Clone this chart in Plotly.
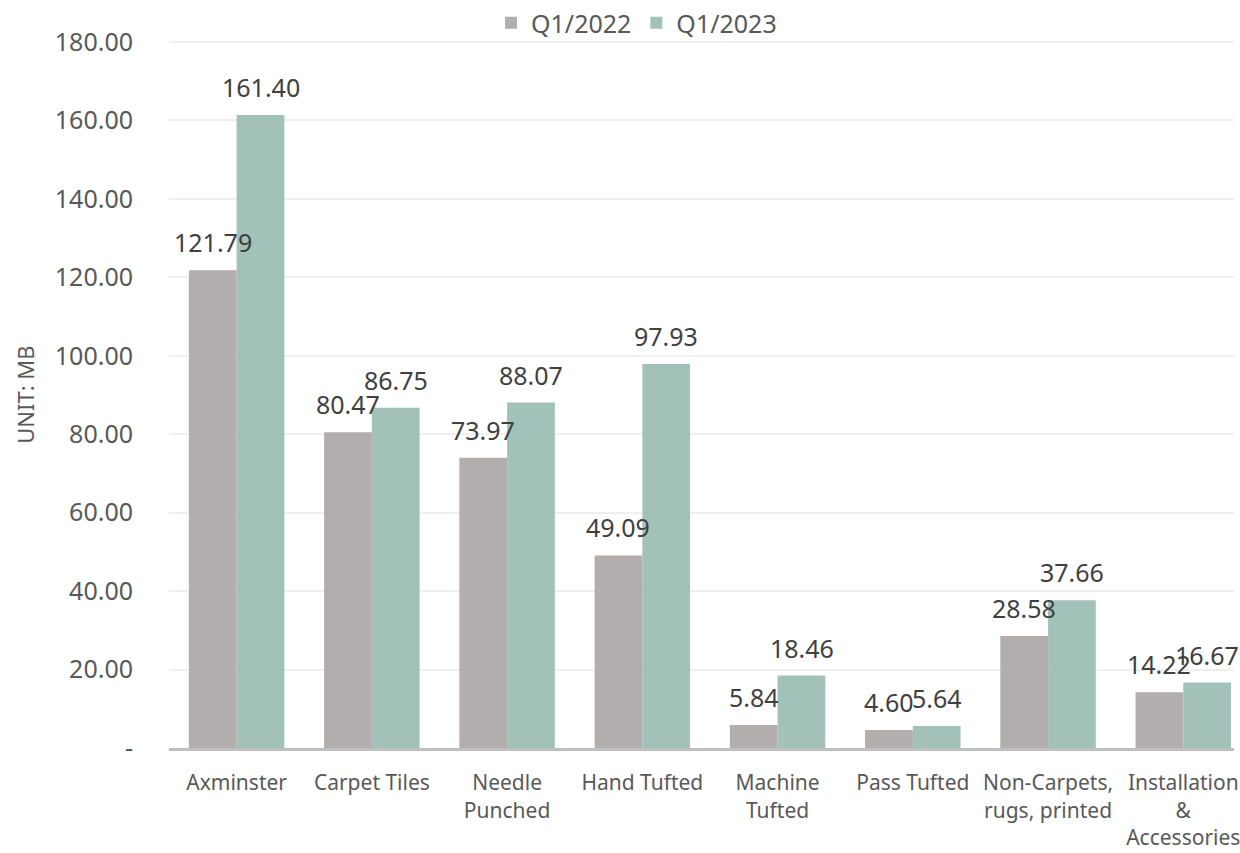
import plotly.graph_objects as go

categories = ["Axminster", "Carpet Tiles", "Needle<br>Punched", "Hand Tufted",
              "Machine<br>Tufted", "Pass Tufted", "Non-Carpets,<br>rugs, printed",
              "Installation<br>&<br>Accessories"]
q1_2022 = [121.79, 80.47, 73.97, 49.09, 5.84, 4.60, 28.58, 14.22]
q1_2023 = [161.40, 86.75, 88.07, 97.93, 18.46, 5.64, 37.66, 16.67]
series_names = ["Q1/2022", "Q1/2023"]
ytick_vals = [0, 20, 40, 60, 80, 100, 120, 140, 160, 180]
ytick_text = ["-"] + [f"{v:.2f}" for v in ytick_vals[1:]]
y_title = "UNIT: MB"

FONT = "Noto Sans"
fig = go.Figure()
annotations = []
for name, vals, col, shift in [(series_names[0], q1_2022, "#b3adad", -24),
                               (series_names[1], q1_2023, "#a1c1b9", 24)]:
    fig.add_trace(go.Bar(
        x=categories, y=vals, name=name, marker=dict(color=col, line=dict(width=0)),
    ))
    for c, v in zip(categories, vals):
        annotations.append(dict(
            x=c, y=v, xref="x", yref="y", text=f"{v:.2f}", showarrow=False,
            xanchor="center", yanchor="bottom", xshift=shift, yshift=9,
            font=dict(family=FONT, size=25, color="#404040"),
        ))

# axis title (placed next to the y axis, centred on the 0-180 span)
annotations.append(dict(
    x=-0.1354, y=0.472, xref="paper", yref="paper", text=y_title, showarrow=False,
    textangle=-90, xanchor="center", yanchor="middle",
    font=dict(family=FONT, size=22, color="#595959"),
))

fig.update_layout(
    width=1240, height=853,
    margin=dict(l=169, r=0, t=0, b=105),
    paper_bgcolor="white", plot_bgcolor="white",
    barmode="group", bargap=0.294, bargroupgap=0,
    font=dict(family=FONT, color="#595959"),
    annotations=annotations,
    legend=dict(orientation="h", x=0.439, xanchor="center", y=1.0,
                yanchor="top",
                font=dict(family=FONT, size=25, color="#595959"),
                traceorder="normal", bgcolor="rgba(0,0,0,0)"),
    xaxis=dict(range=[-0.5, 7.375], showline=True, linecolor="#bfbfbf", linewidth=3,
               tickfont=dict(family=FONT, size=21, color="#595959"),
               ticks="outside", ticklen=14, tickcolor="rgba(0,0,0,0)",
               showgrid=False),
    yaxis=dict(range=[0, 190.7], tickvals=ytick_vals, ticktext=ytick_text,
               tickfont=dict(family=FONT, size=25, color="#595959"),
               showgrid=True, gridcolor="#efefef", gridwidth=2, zeroline=False,
               ticks="outside", ticklen=30, tickcolor="rgba(0,0,0,0)"),
)
fig.write_html("out.html")
